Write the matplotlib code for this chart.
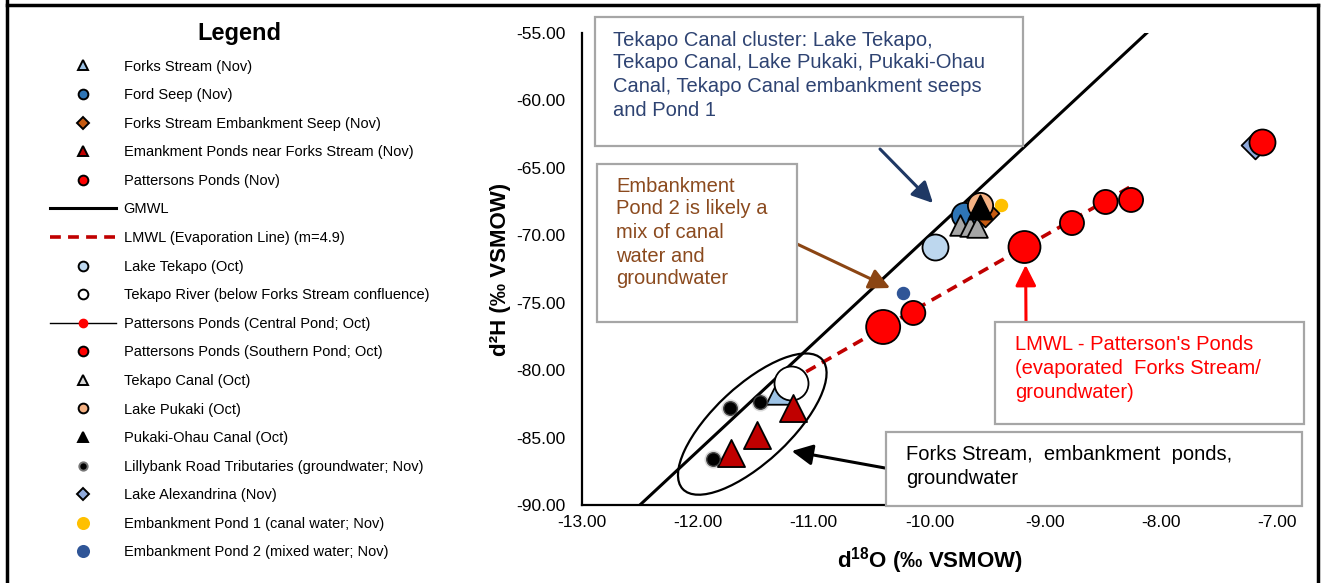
import matplotlib.pyplot as plt
import matplotlib.transforms as mtransforms
from matplotlib.lines import Line2D
from matplotlib.patches import Ellipse, Rectangle

plt.rcParams['font.family'] = ['Liberation Sans', 'DejaVu Sans']
plt.rcParams['mathtext.fontset'] = 'custom'
plt.rcParams['mathtext.rm'] = 'Liberation Sans'
plt.rcParams['mathtext.bf'] = 'Liberation Sans:bold'

# d18O / d2H values per sampling site
forks_nov_x, forks_nov_y = [-11.29], [-81.5]
ford_seep_x, ford_seep_y = [-9.70], [-68.5]
emb_seep_x, emb_seep_y = [-9.52], [-68.35]
emb_ponds_x, emb_ponds_y = [-11.18, -11.49, -11.71], [-82.8, -84.8, -86.15]
patt_nov_x, patt_nov_y = [-9.18, -10.40], [-70.87, -76.8]
lake_tekapo_x, lake_tekapo_y = [-9.95], [-70.87]
tekapo_river_x, tekapo_river_y = [-11.20], [-80.95]
patt_central_x, patt_central_y = [-7.13], [-63.08]
patt_south_x = [-8.26, -8.48, -8.77, -10.14]
patt_south_y = [-67.38, -67.53, -69.09, -75.76]
tekapo_canal_x, tekapo_canal_y = [-9.74, -9.65, -9.59], [-69.24, -69.31, -69.39]
lake_pukaki_x, lake_pukaki_y = [-9.56], [-67.75]
pukaki_ohau_x, pukaki_ohau_y = [-9.56], [-67.9]
lillybank_x, lillybank_y = [-11.72, -11.46, -11.87], [-82.8, -82.36, -86.6]
alexandrina_x, alexandrina_y = [-7.19], [-63.3]
pond1_x, pond1_y = [-9.38], [-67.75]
pond2_x, pond2_y = [-10.23], [-74.28]

# meteoric water lines
gmwl_slope, gmwl_int = 8.0, 10.0
lmwl_slope, lmwl_int = 4.9, -25.9
lmwl_x = [-11.2, -8.26]

x_ticks = [-13, -12, -11, -10, -9, -8, -7]
y_ticks = [-90, -85, -80, -75, -70, -65, -60, -55]

W, H = 1322, 583
fig = plt.figure(figsize=(W / 100, H / 100), dpi=100)
ax = fig.add_axes([582 / W, 1 - 505 / H, 695 / W, 472 / H])


def fig_xy(px, py):
    # pixel position (from top-left) -> figure fraction
    return px / W, 1 - py / H


# GMWL and LMWL
gx = [(-90 - gmwl_int) / gmwl_slope, (-55 - gmwl_int) / gmwl_slope]
ax.plot(gx, [gmwl_slope * v + gmwl_int for v in gx], color='black', lw=2.2, zorder=2)
ax.plot(lmwl_x, [lmwl_slope * v + lmwl_int for v in lmwl_x], color='#C00000',
        lw=2.6, ls=(0, (3, 2)), zorder=2)

ek = dict(edgecolors='black', linewidths=1.3)
ax.scatter(alexandrina_x, alexandrina_y, s=200, marker='D', c='#8FAADC', zorder=3, **ek)
ax.scatter(patt_central_x, patt_central_y, s=350, c='#FF0000', zorder=4, **ek)
ax.scatter(patt_south_x, patt_south_y, s=[300, 300, 300, 300], c='#FF0000', zorder=4, **ek)
ax.scatter(patt_nov_x, patt_nov_y, s=[530, 600], c='#FF0000', zorder=4, **ek)
ax.scatter(lake_tekapo_x, lake_tekapo_y, s=350, c='#BDD7EE', zorder=4, **ek)
ax.scatter(ford_seep_x, ford_seep_y, s=330, c='#2E75B6', zorder=4, **ek)
ax.scatter(tekapo_canal_x, tekapo_canal_y, s=220, marker='^', c='#A6A6A6', zorder=5, **ek)
ax.scatter(emb_seep_x, emb_seep_y, s=200, marker='D', c='#C55A11', zorder=5, **ek)
ax.scatter(lake_pukaki_x, lake_pukaki_y, s=330, c='#F4B183', zorder=6, **ek)
ax.scatter(pukaki_ohau_x, pukaki_ohau_y, s=300, marker='^', c='black', zorder=7, **ek)
ax.scatter(pond1_x, pond1_y, s=75, c='#FFC000', zorder=4)
ax.scatter(pond2_x, pond2_y, s=75, c='#2F5597', zorder=4)
ax.scatter(forks_nov_x, forks_nov_y, s=420, marker='^', c='#9DC3E6', zorder=4, **ek)
ax.scatter(tekapo_river_x, tekapo_river_y, s=600, c='white', zorder=5, **ek)
ax.scatter(emb_ponds_x, emb_ponds_y, s=380, marker='^', c='#C00000', zorder=6, **ek)
ax.scatter(lillybank_x, lillybank_y, s=170, c='#000000', alpha=0.15, zorder=6, linewidths=0)
ax.scatter(lillybank_x, lillybank_y, s=95, c='black', zorder=6, edgecolors='#444444', linewidths=1)

# ellipse around the Forks Stream / ponds group
ell_tr = mtransforms.Affine2D().scale(fig.dpi / 72) + \
    mtransforms.ScaledTranslation(-11.53, -84.0, ax.transData)
ax.add_patch(Ellipse((0, 0), 137, 55, angle=43, transform=ell_tr, fill=False,
                     ec='black', lw=1.6, zorder=8, clip_on=False))

ax.set_xlim(-13, -7)
ax.set_ylim(-90, -55)
ax.set_xticks(x_ticks)
ax.set_yticks(y_ticks)
ax.set_xticklabels(['%.2f' % v for v in x_ticks])
ax.set_yticklabels(['%.2f' % v for v in y_ticks])
ax.tick_params(length=0, labelsize=12.5)
ax.tick_params(axis='y', pad=12)
ax.tick_params(axis='x', pad=7)
for side in ['top', 'right']:
    ax.spines[side].set_visible(False)
for side in ['left', 'bottom']:
    ax.spines[side].set_linewidth(1.6)
ax.set_xlabel(r'd$^{\mathbf{18}}$O (‰ VSMOW)', fontsize=16, fontweight='bold')
ax.set_ylabel('d²H (‰ VSMOW)', fontsize=16, fontweight='bold')
ax.xaxis.set_label_coords(0.5, -0.085)
ax.yaxis.set_label_coords(-0.102, 0.5)

# annotation boxes
boxes = [
    ((595, 17, 1023, 146), '#2E4372', 613,
     ['Tekapo Canal cluster: Lake Tekapo,', 'Tekapo Canal, Lake Pukaki, Pukaki-Ohau',
      'Canal, Tekapo Canal embankment seeps', 'and Pond 1'], [40, 63, 87, 110]),
    ((597, 164, 797, 322), '#8B4A1E', 616,
     ['Embankment', 'Pond 2 is likely a', 'mix of canal', 'water and', 'groundwater'],
     [186, 209, 232, 256, 279]),
    ((995, 322, 1304, 424), '#FF0000', 1015,
     ["LMWL - Patterson's Ponds", '(evaporated  Forks Stream/', 'groundwater)'],
     [345, 369, 392]),
    ((886, 432, 1302, 506), '#000000', 906,
     ['Forks Stream,  embankment  ponds,', 'groundwater'], [455, 478]),
]
for (x0, y0, x1, y1), col, tx, lines, ys in boxes:
    fx0, fy1 = fig_xy(x0, y1)
    fx1, fy0 = fig_xy(x1, y0)
    fig.add_artist(Rectangle((fx0, fy1), fx1 - fx0, fy0 - fy1, transform=fig.transFigure,
                             fc='white', ec='#A6A6A6', lw=1.6, zorder=10))
    for line, ty in zip(lines, ys):
        fig.text(*fig_xy(tx, ty), line, color=col, fontsize=14.5, va='center', ha='left',
                 zorder=11)

# arrows from boxes to groups
arrows = [((-9.97, -67.61), (880, 149), '#1F3864'),
          ((-10.34, -73.91), (797, 244), '#8B4513'),
          ((-9.17, -72.2), (1026, 322), '#FF0000'),
          ((-11.19, -86.0), (885, 468), '#000000')]
for head, (tx, ty), col in arrows:
    ax.annotate('', xy=head, xycoords='data', xytext=(tx, H - ty),
                textcoords='figure pixels',
                arrowprops=dict(arrowstyle='-|>,head_length=0.7,head_width=0.35',
                                mutation_scale=18, color=col, lw=2.2,
                                shrinkA=0, shrinkB=0),
                zorder=12, annotation_clip=False)

# legend
def mk(marker, fc, ms=7, ec='black'):
    return Line2D([], [], ls='none', marker=marker, markerfacecolor=fc,
                  markeredgecolor=ec, markersize=ms, markeredgewidth=1.4)


handles = [
    mk('^', '#9DC3E6'), mk('o', '#2E75B6'), mk('D', '#C55A11', 6), mk('^', '#C00000'),
    mk('o', '#FF0000'),
    Line2D([], [], color='black', lw=2.2),
    Line2D([], [], color='#C00000', lw=2.6, ls=(0, (3, 2))),
    mk('o', '#BDD7EE'), mk('o', 'white'),
    Line2D([], [], color='black', lw=1, marker='o', markersize=6,
           markerfacecolor='#FF0000', markeredgecolor='#FF0000'),
    mk('o', '#FF0000'), mk('^', '#D9D9D9'), mk('o', '#F4B183'), mk('^', 'black'),
    mk('o', 'black', 6, '#777777'), mk('D', '#8FAADC', 6),
    mk('o', '#FFC000', 8, '#FFC000'), mk('o', '#2F5597', 8, '#2F5597'),
]
labels = [
    'Forks Stream (Nov)', 'Ford Seep (Nov)', 'Forks Stream Embankment Seep (Nov)',
    'Emankment Ponds near Forks Stream (Nov)', 'Pattersons Ponds (Nov)', 'GMWL',
    'LMWL (Evaporation Line) (m=4.9)', 'Lake Tekapo (Oct)',
    'Tekapo River (below Forks Stream confluence)', 'Pattersons Ponds (Central Pond; Oct)',
    'Pattersons Ponds (Southern Pond; Oct)', 'Tekapo Canal (Oct)', 'Lake Pukaki (Oct)',
    'Pukaki-Ohau Canal (Oct)', 'Lillybank Road Tributaries (groundwater; Nov)',
    'Lake Alexandrina (Nov)', 'Embankment Pond 1 (canal water; Nov)',
    'Embankment Pond 2 (mixed water; Nov)',
]
leg = fig.legend(handles, labels, loc='upper left', bbox_to_anchor=fig_xy(50, 22),
                 bbox_transform=fig.transFigure, frameon=False, fontsize=10.5,
                 title='Legend', title_fontproperties={'size': 17, 'weight': 'bold'},
                 handlelength=4.5, handletextpad=0.55, labelspacing=1.0,
                 borderpad=0, borderaxespad=0)

# outer frame
for xs, ys in [([7, 7], [0, 583]), ([7, 1318], [5, 5]), ([1318, 1318], [5, 583])]:
    fig.add_artist(Line2D([x / W for x in xs], [1 - y / H for y in ys],
                          transform=fig.transFigure, color='black', lw=2.5))

plt.savefig('out.png', dpi=100)
